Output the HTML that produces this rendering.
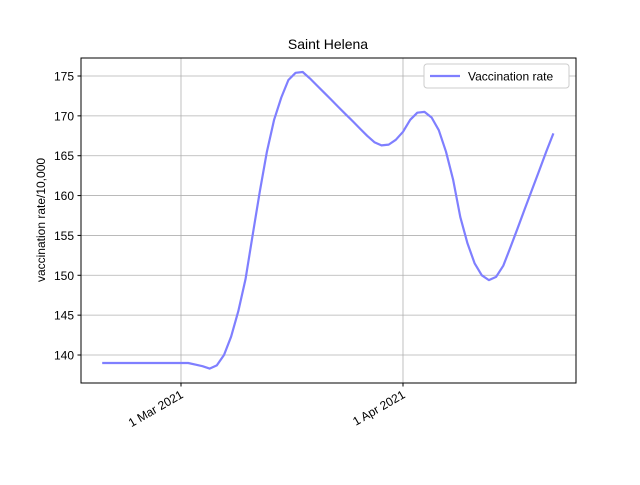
<!DOCTYPE html>
<html><head><meta charset="utf-8"><style>
html,body{margin:0;padding:0;background:#fff;}
svg text{font-family:"Liberation Sans","DejaVu Sans",sans-serif;fill:#000;}
</style></head><body>
<svg id="chart" width="640" height="480" viewBox="0 0 640 480" xmlns="http://www.w3.org/2000/svg">
<rect width="640" height="480" fill="#fff"/>
<text x="328" y="49" text-anchor="middle" font-size="14">Saint Helena</text>
<g id="grid"></g>
<g id="yticks"></g>
<g id="xticks"></g>
<polyline id="series" fill="none" stroke="#7f7fff" stroke-width="2.2" stroke-linejoin="round"/>
<rect x="81" y="58" width="495" height="325" fill="none" stroke="#000" stroke-width="1"/>
<text transform="translate(45,220) rotate(-90)" text-anchor="middle" font-size="12">vaccination rate/10,000</text>
<g>
<rect x="424" y="64" width="145" height="24" rx="3" fill="#fff" stroke="#ccc"/>
<line x1="430" y1="76" x2="460" y2="76" stroke="#7f7fff" stroke-width="2.2"/>
<text x="468" y="80.5" font-size="12">Vaccination rate</text>
</g>
</svg>
<script>
const startDay = -11; // days relative to 1 Mar 2021
const values = [139,139,139,139,139,139,139,139,139,139,139,139,139,138.8,138.6,138.3,138.7,140,142.3,145.5,149.5,155,160.5,165.5,169.5,172.3,174.5,175.4,175.5,174.7,173.8,172.9,172.0,171.1,170.2,169.3,168.4,167.5,166.7,166.3,166.4,167,168,169.5,170.4,170.5,169.8,168.2,165.5,162,157.3,154,151.5,150,149.4,149.8,151.2,153.5,155.9,158.3,160.7,163.1,165.5,167.8];
const yTicks = [140,145,150,155,160,165,170,175];
const xTickDays = [0,31];
const xTickLabels = ["1 Mar 2021","1 Apr 2021"];
const NS="http://www.w3.org/2000/svg";
const L=81,R=576,T=58,B=383;
const xs=d=>181+(d)*(222/31);
const ys=v=>355-(v-140)*(279/35);
function mk(tag,attrs,parent){const e=document.createElementNS(NS,tag);for(const k in attrs)e.setAttribute(k,attrs[k]);parent.appendChild(e);return e;}
const grid=document.getElementById('grid'),yt=document.getElementById('yticks'),xt=document.getElementById('xticks');
yTicks.forEach(v=>{const y=ys(v);
 const g=mk('line',{x1:L,x2:R,y1:y,y2:y,stroke:'#b0b0b0','stroke-width':0.8},grid);
 
 
 mk('line',{x1:L-3.5,x2:L,y1:y,y2:y,stroke:'#000'},yt);
 const t=mk('text',{x:L-7,y:y+4.5,'text-anchor':'end','font-size':12},yt);t.textContent=v;
 
 
});
xTickDays.forEach((d,i)=>{const x=xs(d);
 const g=mk('line',{x1:x,x2:x,y1:T,y2:B,stroke:'#b0b0b0','stroke-width':0.8},grid);
 
 
 mk('line',{x1:x,x2:x,y1:B,y2:B+3.5,stroke:'#000'},xt);
 const t=mk('text',{x:0,y:0,'text-anchor':'end','font-size':12,transform:`translate(${x+3},${B+14}) rotate(-30)`},xt);t.textContent=xTickLabels[i];
 
 
});
document.getElementById('series').setAttribute('points',values.map((v,i)=>xs(startDay+i).toFixed(1)+','+ys(v).toFixed(1)).join(' '));
</script>
</body></html>
